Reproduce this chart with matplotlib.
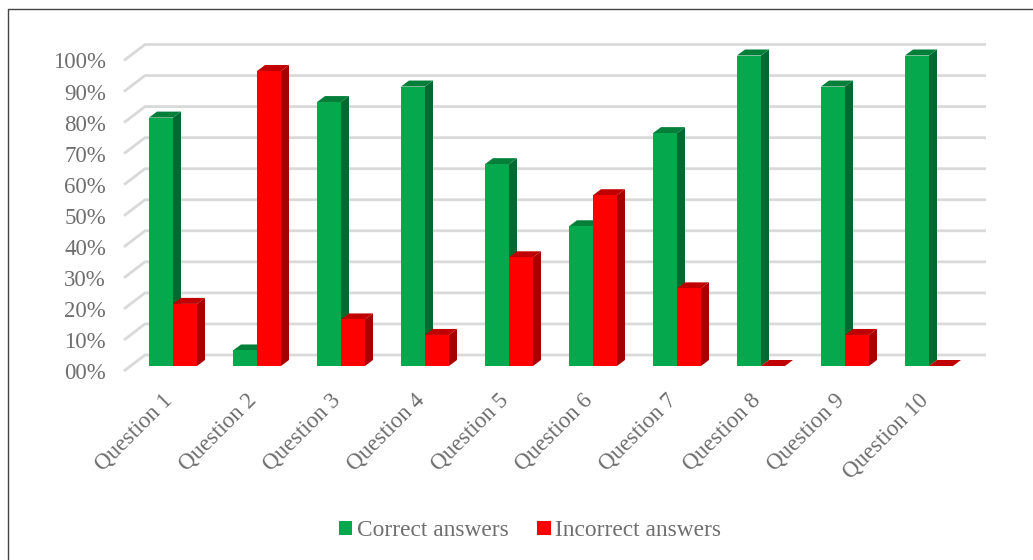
import matplotlib
matplotlib.use("Agg")
import matplotlib.pyplot as plt
from matplotlib.lines import Line2D
from matplotlib.transforms import ScaledTranslation

questions = ["Question 1", "Question 2", "Question 3", "Question 4", "Question 5",
             "Question 6", "Question 7", "Question 8", "Question 9", "Question 10"]
correct = [80, 5, 85, 90, 65, 45, 75, 100, 90, 100]
incorrect = [20, 95, 15, 10, 35, 55, 25, 0, 10, 0]
percent_ticks = [0, 10, 20, 30, 40, 50, 60, 70, 80, 90, 100]
percent_labels = ["00%", "10%", "20%", "30%", "40%", "50%", "60%", "70%", "80%", "90%", "100%"]

W, H = 1033, 560
TEXT = "#6e6e6e"
GRID = "#d9d9d9"
GREEN = ("#05a84c", "#037f3a", "#026a30")   # front, top, side
RED = ("#ff0000", "#c00000", "#a60000")

plt.rcParams["font.family"] = ["Liberation Serif", "DejaVu Serif"]
fig = plt.figure(figsize=(W / 100, H / 100), dpi=100)

# Axes box in pixels; one category is 84 px wide, 100 % is 310.5 px tall.
px_left, px_right, px_top, px_bottom = 124, 986, 40, 372
ax = fig.add_axes([px_left / W, 1 - px_bottom / H,
                   (px_right - px_left) / W, (px_bottom - px_top) / H])
x_unit, y_unit = 84.0, 3.105
x0_px, y0_px = 173.0, 366.0
ax.set_xlim((px_left - x0_px) / x_unit, (px_right - x0_px) / x_unit)
ax.set_ylim((y0_px - px_bottom) / y_unit, (y0_px - px_top) / y_unit)
for s in ax.spines.values():
    s.set_visible(False)
ax.patch.set_visible(False)

# Pseudo-3D depth of bars and of the back wall, in data units.
bar_w = 24 / x_unit
depth_x, depth_y = 8 / x_unit, 6 / y_unit
wall_front_y, wall_back_y = -5 / y_unit, 11 / y_unit
wall_back_x = ax.get_xlim()[0] + 21 / x_unit
x_end = ax.get_xlim()[1]

for v in percent_ticks:
    ax.plot([ax.get_xlim()[0], wall_back_x, x_end],
            [v + wall_front_y, v + wall_back_y, v + wall_back_y],
            color=GRID, lw=2.0, solid_capstyle="butt", solid_joinstyle="miter",
            zorder=1, clip_on=False)


def draw_bar(x_left, value, colors, z):
    """Front face plus the slanted top and side faces of one bar."""
    x_right = x_left + bar_w
    ax.fill([x_right, x_right + depth_x, x_right + depth_x, x_right],
            [0, depth_y, value + depth_y, value], color=colors[2], lw=0, zorder=z)
    ax.fill([x_left, x_right, x_right + depth_x, x_left + depth_x],
            [value, value, value + depth_y, value + depth_y], color=colors[1], lw=0, zorder=z)
    if value > 0:
        ax.bar(x_left, value, width=bar_w, align="edge", color=colors[0], lw=0, zorder=z)


for i in range(len(questions)):
    draw_bar(i - bar_w, correct[i], GREEN, 2 + i * 0.01)
    draw_bar(i, incorrect[i], RED, 3 + i * 0.01)

# Value labels sit beside the front ends of the wall lines.
ax.set_yticks(percent_ticks, percent_labels)
ax.tick_params(axis="y", length=0, pad=13, labelsize=16.5, labelcolor=TEXT)
shift = ScaledTranslation(0, -5 / 100, fig.dpi_scale_trans)
for lab in ax.get_yticklabels():
    lab.set_transform(lab.get_transform() + shift)

ax.set_xticks(range(len(questions)), questions)
ax.tick_params(axis="x", length=0, pad=13, labelsize=16.5, labelcolor=TEXT)
x_shift = ScaledTranslation(-11 / 100, 0, fig.dpi_scale_trans)
for lab in ax.get_xticklabels():
    lab.set_rotation(45)
    lab.set_ha("right")
    lab.set_va("top")
    lab.set_rotation_mode("anchor")
    lab.set_transform(lab.get_transform() + x_shift)

handles = [plt.Rectangle((0, 0), 1, 1, color=GREEN[0], lw=0),
           plt.Rectangle((0, 0), 1, 1, color=RED[0], lw=0)]
fig.legend(handles, ["Correct answers", "Incorrect answers"], ncol=2, frameon=False,
           loc="center", bbox_to_anchor=(530 / W, 1 - 531 / H), fontsize=16.8,
           labelcolor=TEXT, handlelength=0.56, handleheight=0.56,
           handletextpad=0.2, columnspacing=1.25)

# Frame of the chart area: only its left and top edges are in view.
fig.add_artist(Line2D([8 / W, 8 / W, 1], [0, 1 - 9 / H, 1 - 9 / H],
                      color="#444444", lw=1.0, transform=fig.transFigure))

fig.savefig("out.png", dpi=100, facecolor="white")
